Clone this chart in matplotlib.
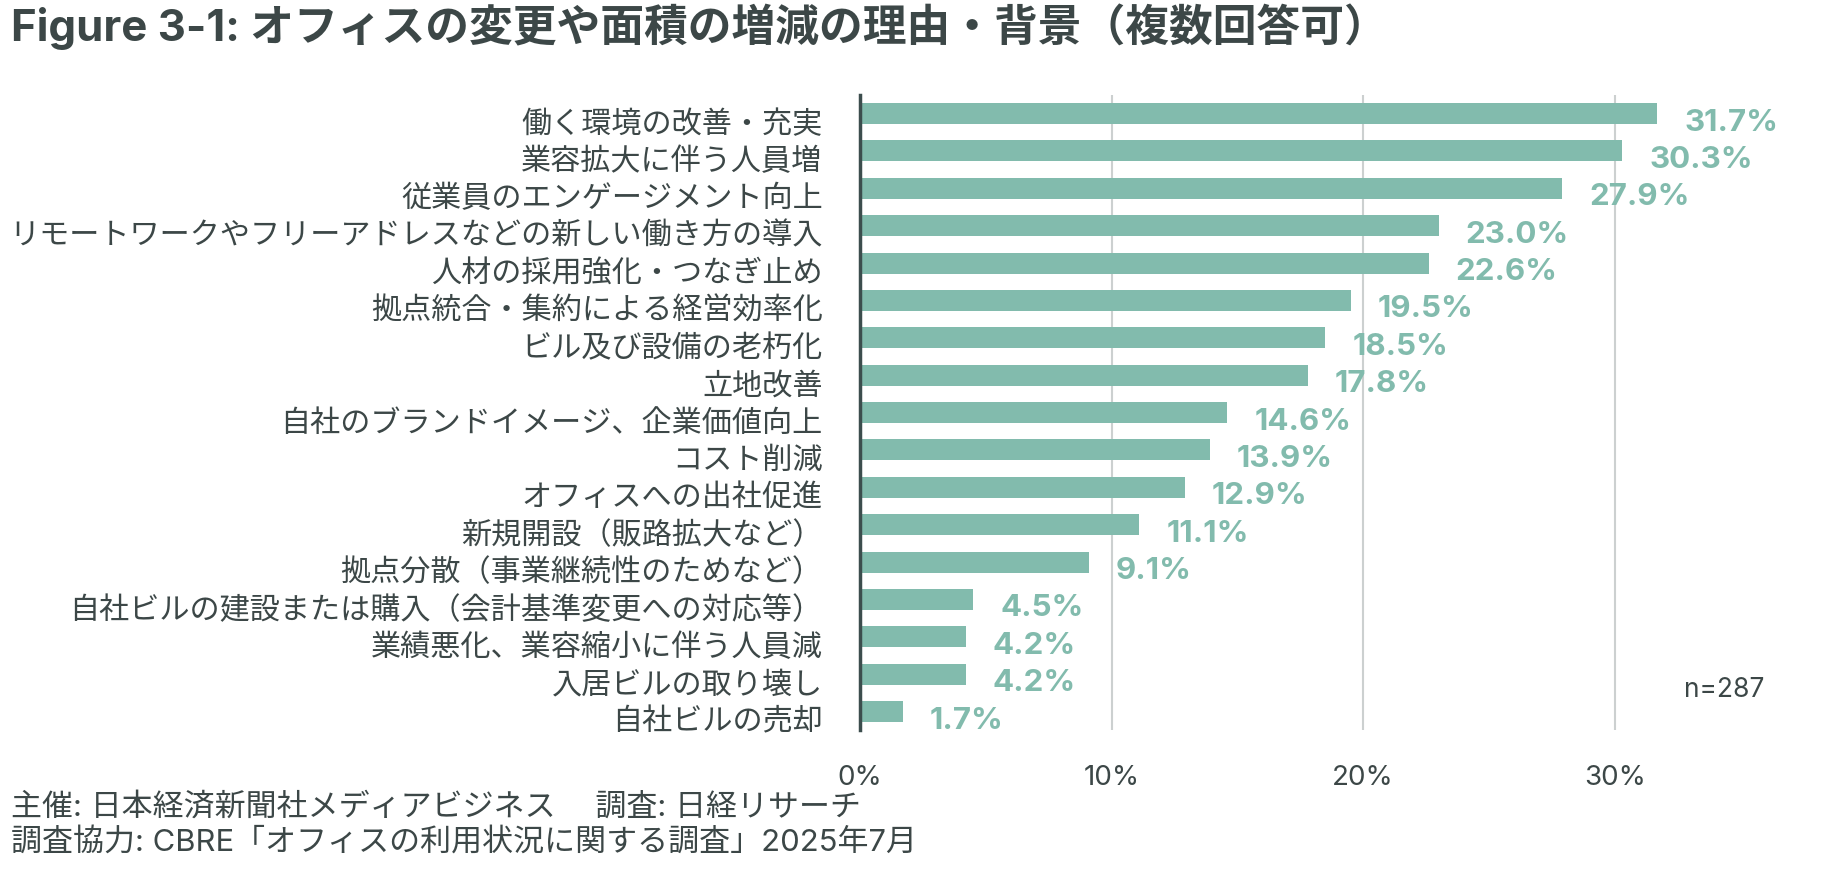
import matplotlib.pyplot as plt
import matplotlib.transforms as mtransforms

plt.rcParams['font.family'] = ['Inter', 'Noto Sans CJK JP', 'DejaVu Sans']

categories = [
    "働く環境の改善・充実",
    "業容拡大に伴う人員増",
    "従業員のエンゲージメント向上",
    "リモートワークやフリーアドレスなどの新しい働き方の導入",
    "人材の採用強化・つなぎ止め",
    "拠点統合・集約による経営効率化",
    "ビル及び設備の老朽化",
    "立地改善",
    "自社のブランドイメージ、企業価値向上",
    "コスト削減",
    "オフィスへの出社促進",
    "新規開設（販路拡大など）",
    "拠点分散（事業継続性のためなど）",
    "自社ビルの建設または購入（会計基準変更への対応等）",
    "業績悪化、業容縮小に伴う人員減",
    "入居ビルの取り壊し",
    "自社ビルの売却",
]
values = [31.7, 30.3, 27.9, 23.0, 22.6, 19.5, 18.5, 17.8, 14.6, 13.9, 12.9, 11.1, 9.1, 4.5, 4.2, 4.2, 1.7]
xticks = [0, 10, 20, 30]

bar_color = "#82BBAD"
text_color = "#3C4747"

fig = plt.figure(figsize=(18.34, 8.79), dpi=100)
ax = fig.add_axes([0.469, 0.168, 0.48, 0.723])

ypos = list(range(len(categories)))
ax.barh(ypos, values, height=0.56, color=bar_color, zorder=3)
ax.set_ylim(len(categories) - 0.5, -0.5)
ax.set_xlim(0, 35)

ax.set_yticks(ypos)
ax.set_yticklabels(categories, fontsize=21.7, color=text_color)
ax.set_xticks(xticks)
ax.set_xticklabels([f"{t}%" for t in xticks], fontsize=20, color=text_color)
ax.tick_params(axis='both', length=0)
ax.tick_params(axis='y', pad=27)
ax.tick_params(axis='x', pad=24)

shift = mtransforms.ScaledTranslation(0, -7 / 100, fig.dpi_scale_trans)
for lab in ax.get_yticklabels():
    lab.set_transform(lab.get_transform() + shift)

ax.grid(axis='x', color="#CCD0D0", linewidth=1.5, zorder=0)
for s in ['top', 'right', 'bottom']:
    ax.spines[s].set_visible(False)
ax.spines['left'].set_color("#3C4D4D")
ax.spines['left'].set_linewidth(2.5)
ax.spines['left'].set_zorder(4)

for y, v in zip(ypos, values):
    ax.annotate(f"{v:.1f}%", xy=(v, y), xytext=(27, -8), textcoords='offset pixels',
                ha='left', va='center', fontsize=22.5, fontweight='bold', color=bar_color)

ax.text(0.962, 0.215, "n=287", transform=fig.transFigure, ha='right', va='center',
        fontsize=19, color=text_color)

fig.text(0.006, 0.970, "Figure 3-1: オフィスの変更や面積の増減の理由・背景（複数回答可）",
         ha='left', va='center', fontsize=31.5, fontweight='bold', color=text_color)

fig.text(0.006, 0.082, "主催: 日本経済新聞社メディアビジネス　 調査: 日経リサーチ",
         ha='left', va='center', fontsize=22.3, color=text_color)
fig.text(0.006, 0.042, "調査協力: CBRE「オフィスの利用状況に関する調査」2025年7月",
         ha='left', va='center', fontsize=22.3, color=text_color)

fig.savefig("out.png", dpi=100, facecolor="white")
